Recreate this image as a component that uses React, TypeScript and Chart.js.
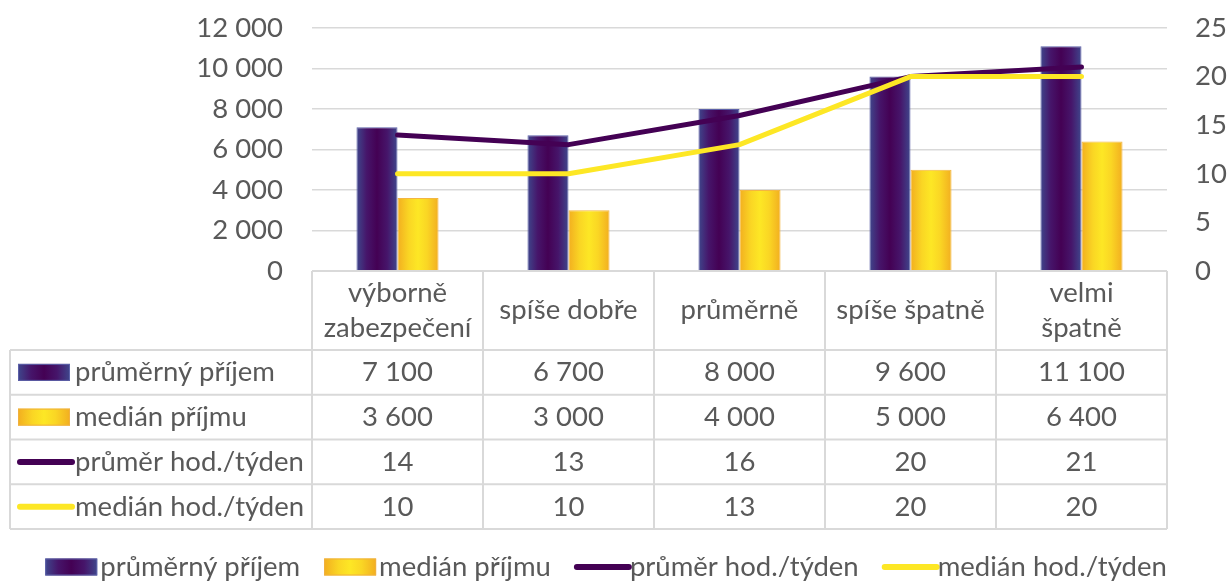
import { useEffect, useRef } from "react";
import { Chart, registerables } from "chart.js";

Chart.register(...registerables);

// ---- data ----
const categories: (string | string[])[] = [
  ["výborně", "zabezpečení"],
  "spíše dobře",
  "průměrně",
  "spíše špatně",
  ["velmi", "špatně"],
];
const seriesNames = [
  "průměrný příjem",
  "medián příjmu",
  "průměr hod./týden",
  "medián hod./týden",
];
const avgIncome = [7100, 6700, 8000, 9600, 11100];
const medianIncome = [3600, 3000, 4000, 5000, 6400];
const avgHours = [14, 13, 16, 20, 21];
const medianHours = [10, 10, 13, 20, 20];
const leftAxis = { min: 0, max: 12000, step: 2000 };
const rightAxis = { min: 0, max: 25, step: 5 };

// ---- styles ----
const FONT_FAMILY = "Lato, 'Open Sans', sans-serif";
const FONT_SIZE = 27.5;
const TEXT_COLOR = "#595959";
const GRID_COLOR = "#d9d9d9";
const PURPLE = "#440154";
const YELLOW = "#fde725";
const HEADER_H = 79;
const ROW_H = 44.75;
const TABLE_LEFT = 10;

const fmt = (v: number) => String(v).replace(/\B(?=(\d{3})+(?!\d))/g, " ");

function purpleGrad(ctx: CanvasRenderingContext2D, x0: number, x1: number) {
  const g = ctx.createLinearGradient(x0, 0, x1, 0);
  g.addColorStop(0, "#3f478c");
  g.addColorStop(0.25, "#46156a");
  g.addColorStop(0.5, "#440154");
  g.addColorStop(0.75, "#46156a");
  g.addColorStop(1, "#3f478c");
  return g;
}
function yellowGrad(ctx: CanvasRenderingContext2D, x0: number, x1: number) {
  const g = ctx.createLinearGradient(x0, 0, x1, 0);
  g.addColorStop(0, "#f2ae20");
  g.addColorStop(0.28, "#fad624");
  g.addColorStop(0.5, "#fde725");
  g.addColorStop(0.72, "#fad624");
  g.addColorStop(1, "#f2ae20");
  return g;
}
const CAT_PCT = 0.48;

function barBg(which: number) {
  return (c: any) => {
    const chart = c.chart;
    const xs = chart.scales?.x;
    if (!chart.chartArea || !xs || c.dataIndex === undefined) return which === 0 ? PURPLE : YELLOW;
    const cw = chart.chartArea.width / categories.length;
    const center = xs.getPixelForValue(c.dataIndex);
    const group = cw * CAT_PCT;
    const x0 = center - group / 2 + which * (group / 2);
    const x1 = x0 + group / 2;
    return which === 0 ? purpleGrad(chart.ctx, x0, x1) : yellowGrad(chart.ctx, x0, x1);
  };
}

function drawKey(ctx: CanvasRenderingContext2D, kind: number, x: number, y: number) {
  const w = 52;
  if (kind < 2) {
    const h = 17;
    ctx.fillStyle = kind === 0 ? purpleGrad(ctx, x, x + w) : yellowGrad(ctx, x, x + w);
    ctx.fillRect(x, y - h / 2, w, h);
    ctx.strokeStyle = kind === 0 ? "#5c60a8" : "#f0b040";
    ctx.lineWidth = 1;
    ctx.strokeRect(x + 0.5, y - h / 2 + 0.5, w - 1, h - 1);
  } else {
    ctx.strokeStyle = kind === 2 ? PURPLE : YELLOW;
    ctx.lineWidth = 6;
    ctx.lineCap = "round";
    ctx.beginPath();
    ctx.moveTo(x + 2, y);
    ctx.lineTo(x + w + 2, y);
    ctx.stroke();
  }
}

const tablePlugin = {
  id: "dataTable",
  afterDraw(chart: any) {
    const ctx: CanvasRenderingContext2D = chart.ctx;
    const area = chart.chartArea;
    const xs = chart.scales.x;
    const n = categories.length;
    const cw = area.width / n;
    const top = area.bottom;
    const hb = top + HEADER_H;
    const rowsData = [avgIncome.map(fmt), medianIncome.map(fmt), avgHours.map(String), medianHours.map(String)];
    const bottom = hb + rowsData.length * ROW_H;
    ctx.save();
    ctx.strokeStyle = GRID_COLOR;
    ctx.lineWidth = 2;
    ctx.beginPath();
    ctx.moveTo(area.left, top);
    ctx.lineTo(area.right, top);
    for (let r = 0; r <= rowsData.length; r++) {
      const y = hb + r * ROW_H;
      ctx.moveTo(TABLE_LEFT, y);
      ctx.lineTo(area.right, y);
    }
    for (let i = 0; i <= n; i++) {
      const x = area.left + i * cw;
      ctx.moveTo(x, top);
      ctx.lineTo(x, bottom);
    }
    ctx.moveTo(TABLE_LEFT, hb);
    ctx.lineTo(TABLE_LEFT, bottom);
    ctx.stroke();

    ctx.font = `${FONT_SIZE}px ${FONT_FAMILY}`;
    ctx.fillStyle = TEXT_COLOR;
    ctx.textAlign = "center";
    ctx.textBaseline = "middle";
    const lh = 35;
    categories.forEach((cat, i) => {
      const lines = Array.isArray(cat) ? cat : [cat];
      const cx = xs.getPixelForValue(i);
      const cy = (top + hb) / 2;
      lines.forEach((ln, j) => {
        ctx.fillText(ln, cx, cy + (j - (lines.length - 1) / 2) * lh);
      });
    });
    rowsData.forEach((row, r) => {
      const cy = hb + r * ROW_H + ROW_H / 2;
      row.forEach((v, i) => {
        ctx.fillStyle = TEXT_COLOR;
        ctx.textAlign = "center";
        ctx.fillText(v, xs.getPixelForValue(i), cy);
      });
      drawKey(ctx, r, 18, cy);
      ctx.fillStyle = TEXT_COLOR;
      ctx.textAlign = "left";
      ctx.fillText(seriesNames[r], 75, cy);
    });

    // bottom legend
    const ly = 567;
    const keyW = 55;
    const gap = 24;
    const widths = seriesNames.map((s) => keyW + ctx.measureText(s).width);
    const total = widths.reduce((a, b) => a + b, 0) + gap * (widths.length - 1);
    let x = 606 - total / 2;
    seriesNames.forEach((s, k) => {
      drawKey(ctx, k, x, ly);
      ctx.fillStyle = TEXT_COLOR;
      ctx.textAlign = "left";
      ctx.textBaseline = "middle";
      ctx.fillText(s, x + keyW, ly);
      x += widths[k] + gap;
    });
    ctx.restore();
  },
};

export default function App() {
  const ref = useRef<HTMLCanvasElement>(null);
  useEffect(() => {
    if (!ref.current) return;
    const font = { family: FONT_FAMILY, size: FONT_SIZE };
    const chart = new Chart(ref.current, {
      type: "bar",
      data: {
        labels: categories,
        datasets: [
          {
            type: "line",
            label: seriesNames[3],
            data: medianHours,
            yAxisID: "y1",
            borderColor: YELLOW,
            borderWidth: 5,
            borderCapStyle: "round",
            borderJoinStyle: "round",
            pointRadius: 0,
            order: 0,
          } as any,
          {
            type: "line",
            label: seriesNames[2],
            data: avgHours,
            yAxisID: "y1",
            borderColor: PURPLE,
            borderWidth: 5,
            borderCapStyle: "round",
            borderJoinStyle: "round",
            pointRadius: 0,
            order: 1,
          } as any,
          {
            type: "bar",
            label: seriesNames[0],
            data: avgIncome,
            yAxisID: "y",
            backgroundColor: barBg(0),
            borderColor: "#5c60a8",
            borderWidth: 1,
            barPercentage: 1,
            categoryPercentage: CAT_PCT,
            order: 2,
          } as any,
          {
            type: "bar",
            label: seriesNames[1],
            data: medianIncome,
            yAxisID: "y",
            backgroundColor: barBg(1),
            borderColor: "#f3b642",
            borderWidth: 1,
            barPercentage: 1,
            categoryPercentage: CAT_PCT,
            order: 3,
          } as any,
        ],
      },
      options: {
        responsive: false,
        animation: false,
        devicePixelRatio: 1,
        layout: { padding: { top: 28, bottom: 310, left: 0, right: 0 } },
        plugins: { legend: { display: false }, tooltip: { enabled: false } },
        scales: {
          x: { display: false, offset: true, grid: { display: false } },
          y: {
            position: "left",
            min: leftAxis.min,
            max: leftAxis.max,
            ticks: {
              stepSize: leftAxis.step,
              padding: 29,
              color: TEXT_COLOR,
              font,
              callback: (v: any) => fmt(Number(v)),
            },
            grid: { color: GRID_COLOR, lineWidth: 1.5, drawTicks: false },
            border: { display: false },
            afterFit: (s: any) => {
              s.width = 312;
              s.paddingTop = 0;
              s.paddingBottom = 0;
            },
          },
          y1: {
            position: "right",
            min: rightAxis.min,
            max: rightAxis.max,
            ticks: { stepSize: rightAxis.step, padding: 28, color: TEXT_COLOR, font },
            grid: { drawOnChartArea: false, drawTicks: false },
            border: { display: false },
            afterFit: (s: any) => {
              s.width = 60;
              s.paddingTop = 0;
              s.paddingBottom = 0;
            },
          },
        },
      } as any,
      plugins: [tablePlugin],
    });
    let alive = true;
    (document as any).fonts?.load?.(`${FONT_SIZE}px Lato`).then(() => {
      if (alive) chart.update();
    });
    return () => {
      alive = false;
      chart.destroy();
    };
  }, []);
  return (
    <div style={{ position: "fixed", left: 0, top: 0, width: 1227, height: 581, background: "#fff" }}>
      <canvas ref={ref} width={1227} height={581} />
    </div>
  );
}
